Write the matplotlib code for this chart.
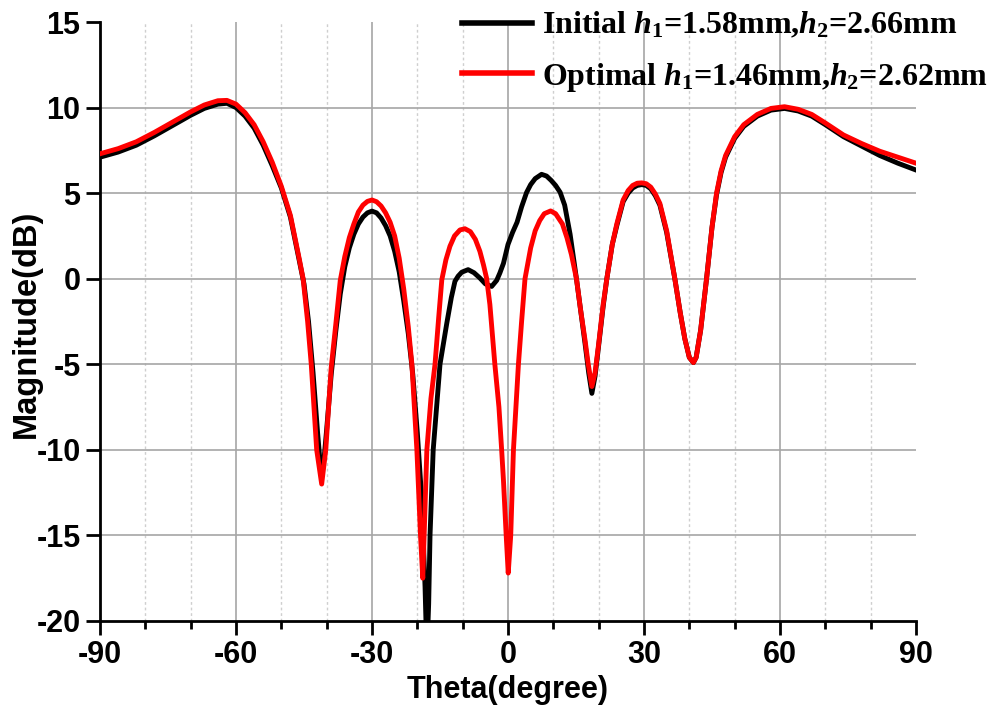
import matplotlib
matplotlib.use("Agg")
import matplotlib.pyplot as plt
from matplotlib.ticker import MultipleLocator

# ---------------- data ----------------
theta_initial = [-90, -86, -82, -78, -74, -70, -67, -64, -62, -60, -58, -56, -54, -52, -50, -48,
                 -46, -45, -44, -43, -42, -41.2, -40.5, -40, -39, -38, -37, -36, -35, -34, -33,
                 -32, -31, -30, -29, -28, -27, -26, -25, -24, -23, -22, -21, -20, -19, -18.3,
                 -17.9, -17.5, -17.2, -16.5, -15, -13.5, -12.5, -11.7, -11, -10.2, -8.8, -7.5,
                 -6.2, -5, -3.6, -2.5, -1.8, -1, 0, 1, 2, 3, 4.1, 5, 6, 7.4, 8.5, 9.5, 10.5, 11.5,
                 12.5, 13.7, 15.1, 16, 17, 17.8, 18.5, 19.2, 20, 21, 21.8, 23, 24, 25.4, 26.5, 27.5,
                 28.5, 29.5, 30.5, 31.5, 32.5, 33.5, 35, 36.8, 38, 39, 40, 40.9, 41.5, 42.5, 43.8,
                 45, 46, 47, 48, 50, 52, 55, 58, 61, 64, 67, 70, 74, 78, 82, 86, 90]
mag_initial = [7.1, 7.4, 7.8, 8.35, 8.95, 9.55, 9.95, 10.2, 10.25, 10.0, 9.5, 8.8, 7.8, 6.6, 5.3, 3.6,
               1.0, -0.3, -2.5, -5.5, -9.0, -11.5, -10.3, -8.8, -5.6, -3.1, -0.9, 0.7, 1.8, 2.6, 3.2,
               3.6, 3.85, 3.95, 3.85, 3.55, 3.1, 2.5, 1.6, 0.4, -1.3, -3.2, -5.6, -9.0, -13.0, -18.0,
               -22.0, -19.0, -15.0, -10.0, -5.0, -2.6, -1.1, -0.15, 0.15, 0.38, 0.53, 0.35,
               0.04, -0.3, -0.45, -0.1, 0.33, 0.9, 2.0, 2.7, 3.3, 4.2, 5.04, 5.5, 5.85, 6.1, 6.0,
               5.75, 5.45, 5.05, 4.3, 2.6, 0.0, -1.8, -3.8, -5.5, -6.7, -5.7, -3.9, -1.6, 0.0,
               2.0, 3.1, 4.5, 5.0, 5.3, 5.45, 5.5, 5.45, 5.25, 4.85, 4.3, 2.7, 0.0, -2.0, -3.5,
               -4.6, -4.9, -4.6, -3.0, 0.0, 3.0, 4.9, 6.2, 7.1, 8.2, 8.9, 9.5, 9.85, 9.95, 9.8,
               9.5, 9.0, 8.3, 7.75, 7.2, 6.75, 6.35]

theta_optimal = [-90, -86, -82, -78, -74, -70, -67, -64, -62, -60, -58, -56, -54, -52, -50, -48,
                 -46, -45.2, -44.2, -43.4, -42.2, -41.1, -40.2, -39, -38, -37, -36, -35, -34,
                 -33, -32, -31, -30, -29, -28, -27, -26, -25, -24, -23, -22, -21.2, -20.1, -19.3,
                 -18.8, -17.9, -17, -16.1, -15.3, -14.6, -13.7, -12.8, -11.8, -10.6, -9.5, -8.3,
                 -7.2, -6.2, -5.4, -4.7, -4, -2.9, -2, -1.4, -1, -0.4, 0.05, 0.6, 1.2, 2.3, 3,
                 3.75, 5, 6, 7, 8, 9.4, 10.5, 12, 13, 14, 15.1, 16, 17, 17.7, 18.5, 19.2, 20, 21,
                 21.8, 23, 24, 25.4, 26.5, 27.5, 28.5, 29.5, 30.5, 31.5, 32.5, 33.5, 35, 36.8, 38,
                 39, 40, 40.9, 41.5, 42.5, 43.8, 45, 46, 47, 48, 50, 52, 55, 58, 61, 64, 67, 70,
                 74, 78, 82, 86, 90]
mag_optimal = [7.3, 7.6, 8.0, 8.55, 9.15, 9.75, 10.15, 10.4, 10.42, 10.2, 9.7, 9.0, 8.0, 6.8, 5.4, 3.7,
               1.1, 0.0, -2.5, -5.0, -10.0, -12.0, -10.0, -5.2, -2.7, -0.1, 1.3, 2.4, 3.2, 3.9,
               4.3, 4.52, 4.6, 4.5, 4.25, 3.85, 3.3, 2.5, 1.2, -0.6, -2.8, -5.0, -10.0, -15.0,
               -17.5, -10.0, -7.0, -5.0, -2.3, -0.06, 1.1, 1.9, 2.5, 2.85, 2.92, 2.75, 2.3, 1.6,
               0.8, 0.0, -1.5, -5.0, -7.5, -10.0, -11.8, -15.0, -17.2, -15.0, -10.0, -5.0, -2.5,
               0.0, 1.8, 2.8, 3.4, 3.8, 3.96, 3.8, 3.2, 2.4, 1.4, 0.0, -1.8, -3.6, -5.0, -6.3,
               -5.5, -3.8, -1.5, 0.0, 2.0, 3.2, 4.6, 5.15, 5.45, 5.58, 5.6, 5.55, 5.35, 4.95, 4.4,
               2.8, 0.0, -2.0, -3.5, -4.6, -4.9, -4.6, -3.0, 0.0, 3.0, 5.0, 6.3, 7.2, 8.3, 9.0,
               9.6, 9.95, 10.05, 9.9, 9.6, 9.1, 8.4, 7.9, 7.45, 7.1, 6.75]

label_initial = "Initial $h_1$=1.58mm,$h_2$=2.66mm"
label_optimal = "Optimal $h_1$=1.46mm,$h_2$=2.62mm"
x_ticks = [-90, -60, -30, 0, 30, 60, 90]
y_ticks = [-20, -15, -10, -5, 0, 5, 10, 15]

# ---------------- style ----------------
plt.rcParams['font.family'] = ['Liberation Sans', 'DejaVu Sans']
plt.rcParams['axes.unicode_minus'] = False
plt.rcParams['mathtext.fontset'] = 'custom'
plt.rcParams['mathtext.rm'] = 'Liberation Serif:bold'
plt.rcParams['mathtext.it'] = 'Liberation Serif:bold:italic'
plt.rcParams['mathtext.bf'] = 'Liberation Serif:bold'

fig = plt.figure(figsize=(9.89, 7.07), dpi=100)
ax = fig.add_axes([100/989, 1-621/707, 816/989, 599/707])

ax.set_xlim(-90, 90)
ax.set_ylim(-20, 15)

# grid
ax.xaxis.set_minor_locator(MultipleLocator(10))
for xv in range(-80, 90, 10):
    if xv % 30 == 0:
        ax.axvline(xv, color='#a6a6a6', lw=1.2, zorder=0)
    else:
        ax.axvline(xv, color='#cfcfcf', lw=1.0, ls=(0, (2, 2)), zorder=0)
for yv in range(-15, 15, 5):
    ax.axhline(yv, color='#a6a6a6', lw=1.2, zorder=0)

ax.plot(theta_initial, mag_initial, color='black', lw=3.5, label=label_initial, zorder=2,
        solid_joinstyle='round')
ax.plot(theta_optimal, mag_optimal, color='#ff0000', lw=3.5, label=label_optimal, zorder=3,
        solid_joinstyle='round')

for s in ['top', 'right']:
    ax.spines[s].set_visible(False)
for s in ['left', 'bottom']:
    ax.spines[s].set_linewidth(2)

ax.set_xticks(x_ticks)
ax.set_yticks(y_ticks)
ax.tick_params(axis='both', which='major', direction='out', length=10, width=2,
               labelsize=22, pad=4)
ax.tick_params(axis='x', which='minor', direction='out', length=6, width=2)
for lab in ax.get_xticklabels() + ax.get_yticklabels():
    lab.set_fontweight('bold')

ax.set_xlabel('Theta(degree)', fontsize=22, fontweight='bold', labelpad=3)
ax.set_ylabel('Magnitude(dB)', fontsize=23.5, fontweight='bold')
ax.yaxis.set_label_coords(-0.071, 0.496)

leg = fig.legend(loc='upper left', bbox_to_anchor=(462/989, 0.985), frameon=False,
                 prop={'family': 'Liberation Serif', 'weight': 'bold', 'size': 23},
                 handlelength=2.2, handletextpad=0.3, labelspacing=0.62,
                 borderpad=0.0, borderaxespad=0.0)
for line in leg.get_lines():
    line.set_linewidth(4)

fig.savefig('out.png', dpi=100)
